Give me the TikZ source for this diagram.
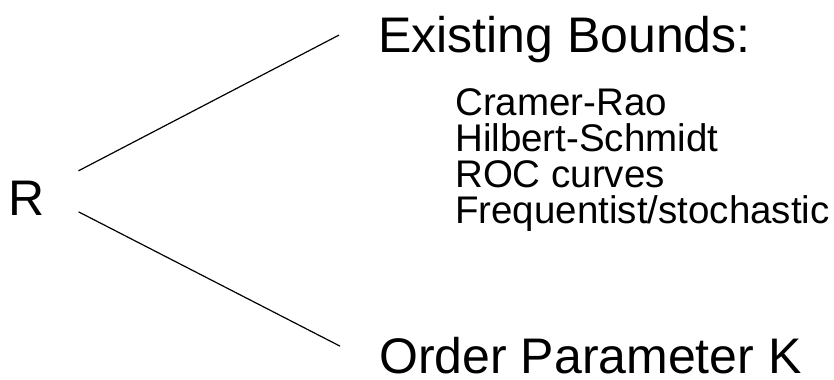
\documentclass[tikz,border=0pt]{standalone}
\usepackage{fontspec}
\setmainfont{Liberation Sans}
\usetikzlibrary{positioning}

\tikzset{
  big/.style={inner sep=0pt, anchor=base west, font=\fontsize{50bp}{60bp}\selectfont},
  item/.style={inner sep=0pt, font=\fontsize{38.5bp}{45bp}\selectfont},
  branch/.style={line width=1.2bp}
}

\begin{document}
\begin{tikzpicture}[x=1bp, y=-1bp]
  \useasboundingbox (0,0) rectangle (834,379);

  \node[big] (R) at (8,215) {R};
  \node[big] (bounds) at (378,52) {Existing Bounds:};
  \node[big] (order) at (379,373) {Order Parameter K};

  % list of bounds
  \node[item, anchor=base west] (cramer) at (455,115) {Cramer-Rao};
  \node[item, below=36bp of cramer.base west, anchor=base west] (hilbert) {Hilbert-Schmidt};
  \node[item, below=36bp of hilbert.base west, anchor=base west] (roc) {ROC curves};
  \node[item, below=36bp of roc.base west, anchor=base west] (freq) {Frequentist/stochastic};

  \draw[branch] ([shift={(34,-27)}]R.east) -- ([shift={(-39,-4)}]bounds.west);
  \draw[branch] ([shift={(34,14)}]R.east) -- ([shift={(-39,-9)}]order.west);
\end{tikzpicture}
\end{document}
